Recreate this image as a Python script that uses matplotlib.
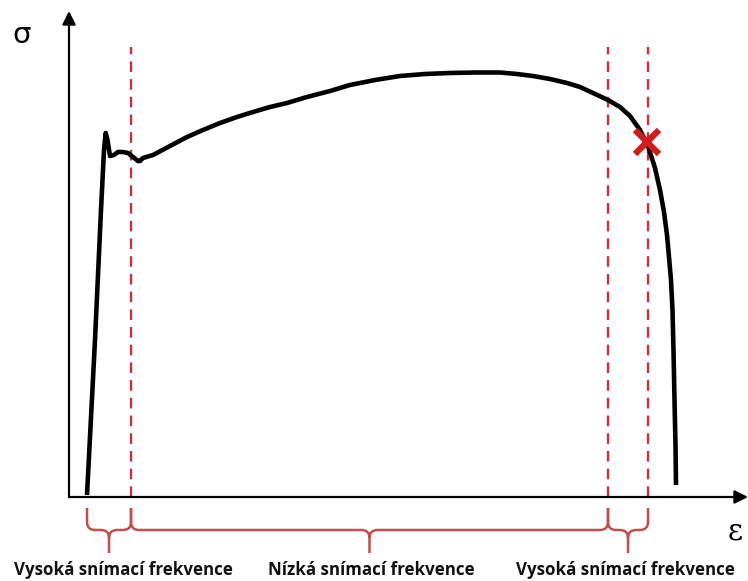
import numpy as np
import matplotlib.pyplot as plt
from matplotlib.path import Path
from matplotlib.patches import PathPatch

# tensile curve (strain, stress), arbitrary units
strain = [18, 26, 32, 35, 36.7, 38.5, 41, 45, 49, 54, 59, 64, 69, 71, 74, 84,
          101, 118, 134, 151, 168, 184, 201, 218, 238, 261, 281, 306, 331, 356,
          381, 406, 431, 448, 464, 481, 498, 511, 524, 539, 551, 561, 571, 579,
          586, 591, 595, 598, 600, 602, 603.5, 604.5, 605.5, 606.5, 607]
stress = [2, 157, 287, 347, 364, 357, 341, 342, 345, 345, 344, 340, 336, 336,
          339, 342, 351, 360, 367, 374, 380, 385, 390, 394, 400, 406, 412, 417,
          421, 423, 424, 424.5, 424.5, 423, 421, 418, 414, 410, 404, 397, 390,
          381, 367, 351, 329, 307, 285, 262, 240, 217, 187, 147, 97, 52, 12]

boundaries = [18, 62, 539, 579]          # strain where sampling rate switches
fracture = (578, 355)                     # crack initiation marker
labels = ['Vysoká snímací frekvence', 'Nízká snímací frekvence',
          'Vysoká snímací frekvence']
label_x = [54, 302, 556]

red_dash = '#c8323c'
red_brace = '#c0504d'

fig = plt.figure(figsize=(7.48, 5.81), dpi=100)
ax = fig.add_axes([0, 0, 1, 1])
ax.set_xlim(-69, 679)
ax.set_ylim(-84, 497)
ax.axis('off')

# axes with arrows
ax.annotate('', xy=(679, 0), xytext=(0, 0),
            arrowprops=dict(arrowstyle='-|>', color='black', lw=1.6,
                            mutation_scale=20, shrinkA=0, shrinkB=0))
ax.annotate('', xy=(0, 486), xytext=(0, 0),
            arrowprops=dict(arrowstyle='-|>', color='black', lw=1.6,
                            mutation_scale=20, shrinkA=0, shrinkB=0))
ax.text(-47, 462, 'σ', fontsize=21, ha='center', va='center')
ax.text(666, -34, 'ε', fontsize=21, family='DejaVu Serif', ha='center', va='center')

# dashed boundaries
for b in boundaries[1:]:
    ax.plot([b, b], [0, 450], color=red_dash, lw=1.7, ls=(0, (4.5, 3)))

# curve
ax.plot(strain, stress, color='black', lw=3.3, solid_joinstyle='round',
        solid_capstyle='butt')

# fracture cross
ax.plot(*fracture, marker='x', color='#d01c1c', ms=17, mew=4.5)


def brace(x0, x1, top=-11, mid=-33, tip=-56, r=8):
    xm = (x0 + x1) / 2
    verts = [(x0, top), (x0, mid + r), (x0, mid), (x0 + r, mid),
             (xm - r, mid), (xm, mid), (xm, mid - r), (xm, tip),
             (xm, mid - r), (xm, mid), (xm + r, mid),
             (x1 - r, mid), (x1, mid), (x1, mid + r), (x1, top)]
    codes = [Path.MOVETO, Path.LINETO, Path.CURVE3, Path.CURVE3,
             Path.LINETO, Path.CURVE3, Path.CURVE3, Path.LINETO,
             Path.MOVETO, Path.CURVE3, Path.CURVE3,
             Path.LINETO, Path.CURVE3, Path.CURVE3, Path.LINETO]
    ax.add_patch(PathPatch(Path(verts, codes), fill=False,
                           edgecolor=red_brace, lw=1.8))


for i, lab in enumerate(labels):
    brace(boundaries[i], boundaries[i + 1])
    ax.text(label_x[i], -73, lab, fontsize=12.2, family='Open Sans',
            fontweight='bold', color='#111111', ha='center', va='center')

plt.savefig('out.png', dpi=100)
